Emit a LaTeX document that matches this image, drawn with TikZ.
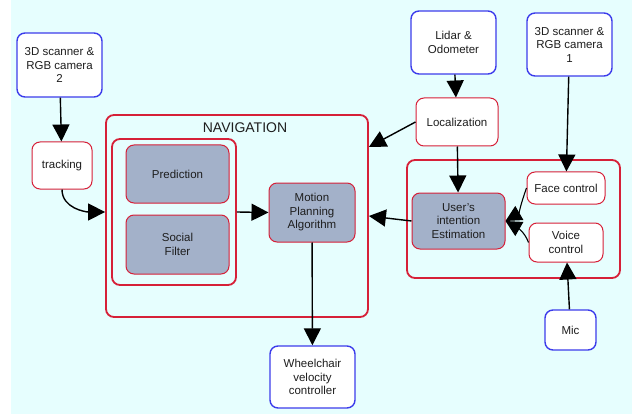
\documentclass[tikz,border=0pt]{standalone}
\usepackage{fontspec}
\setmainfont{Liberation Sans}
\usetikzlibrary{arrows.meta}

\definecolor{bgcyan}{RGB}{230,254,254}
\definecolor{redline}{RGB}{214,32,56}
\definecolor{blueline}{RGB}{60,60,235}
\definecolor{grayfill}{RGB}{163,177,201}
\definecolor{inkgray}{RGB}{30,30,30}

\begin{document}
\begin{tikzpicture}[x=1pt,y=-1pt]
		\tikzset{sensor/.style = {draw=blueline, line width=1.4pt, fill=white, rounded corners=8pt, align=center, text=inkgray, font=\fontsize{11.5}{13.5}\selectfont}}
		\tikzset{module/.style = {draw=redline, line width=1pt, fill=white, rounded corners=8pt, align=center, text=inkgray, font=\fontsize{11.5}{13.5}\selectfont}}
		\tikzset{process/.style = {module, fill=grayfill}}
		\tikzset{group/.style = {draw=redline, line width=1.8pt, rounded corners=8pt, inner sep=0pt}}
		\tikzset{edge/.style = {-{Triangle[length=17pt,width=17pt]}, line width=1.4pt}}
		\tikzset{thinedge/.style = {-{Triangle[length=16pt,width=16pt]}, line width=1.1pt}}
		
		\useasboundingbox (0,0) rectangle (632,417);
		\fill[bgcyan] (11,0) rectangle (632,414);
		
		\node[group, minimum width=262pt, minimum height=202pt] (nav)    at (237, 216) {};
		\node[group, minimum width=124pt, minimum height=146pt] (grp)    at (174, 212) {};
		\node[group, minimum width=213pt, minimum height=118pt] (intent) at (513.5, 219) {};
		\node[text=inkgray, font=\fontsize{14}{16}\selectfont] (navlabel) at (245, 128) {NAVIGATION};
		
		\node[sensor, minimum width=85pt, minimum height=64pt] (cam2)   at (59.5,  65) {3D scanner \&\\RGB camera\\2};
		\node[module, minimum width=60pt, minimum height=47pt] (track)  at (  62, 165.5) {tracking};
		\node[process, minimum width=103pt, minimum height=58pt] (pred) at (177.5, 174) {Prediction};
		\node[process, minimum width=103pt, minimum height=59pt] (social) at (177.5, 244.5) {Social\\Filter};
		\node[process, minimum width=86pt, minimum height=59pt] (motion) at (312, 212.5) {Motion\\Planning\\Algorithm};
		\node[sensor, minimum width=85pt, minimum height=62pt] (wheel)  at (312.5, 377) {Wheelchair\\velocity\\controller};
		\node[sensor, minimum width=85pt, minimum height=63pt] (lidar)  at (453.5, 42.5) {Lidar \&\\Odometer};
		\node[sensor, minimum width=85pt, minimum height=63pt] (cam1)   at (569.5, 44.5) {3D scanner \&\\RGB camera\\1};
		\node[module, minimum width=82pt, minimum height=48pt] (loc)    at ( 457, 122) {Localization};
		\node[process, minimum width=93pt, minimum height=56pt] (users) at (458.5, 221) {User's\\intention\\Estimation};
		\node[module, minimum width=78pt, minimum height=32pt] (face)   at ( 566, 188) {Face control};
		\node[module, minimum width=74pt, minimum height=39pt] (voice)  at ( 566, 242.5) {Voice\\control};
		\node[sensor, minimum width=51pt, minimum height=40pt] (mic)    at (570.5, 330) {Mic};
		
		\draw[edge] (cam2) -- (track);
		\draw[edge] (track.south) to [out=-90, in=180] (nav.west |- grp.east);
		\draw[edge] (grp.east) -- (motion.west);
		\draw[edge] (motion) -- (wheel);
		\draw[edge] (lidar) -- (loc);
		\draw[edge] (loc.west) -- ([yshift=69pt]nav.east);
		\draw[edge] (loc) -- (users);
		\draw[edge] (cam1) -- (face);
		\draw[thinedge] (face.west) to [out=250, in=30] (users.east);
		\draw[thinedge] (voice.west) to [out=110, in=-30] (users.east);
		\draw[edge] (mic) -- (voice);
		\draw[edge] (users.west) -- (nav.east);
		\end{tikzpicture}
\end{document}
